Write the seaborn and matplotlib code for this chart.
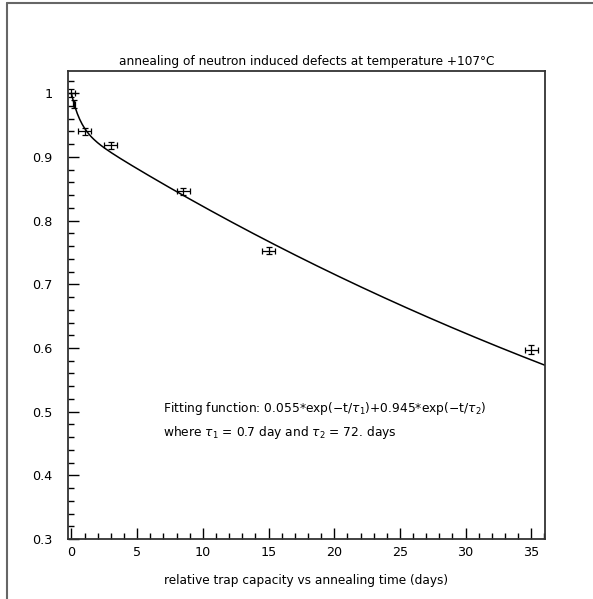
import numpy as np
import pandas as pd
import seaborn as sns
from matplotlib import pyplot as plt
import matplotlib.ticker as mtick
from matplotlib.lines import Line2D

# measured points (relative trap capacity vs annealing time)
days = [0.0, 0.2, 1.0, 3.0, 8.5, 15.0, 35.0]
capacity = [1.000, 0.983, 0.940, 0.918, 0.846, 0.753, 0.597]
days_err = [0.3, 0.1, 0.5, 0.5, 0.5, 0.5, 0.5]
capacity_err = [0.006, 0.006, 0.006, 0.005, 0.005, 0.006, 0.007]

# fit parameters printed on the chart
amp1, tau1 = 0.055, 0.7
amp2, tau2 = 0.945, 72.0

x_ticks = [0, 5, 10, 15, 20, 25, 30, 35]
y_ticks = [0.3, 0.4, 0.5, 0.6, 0.7, 0.8, 0.9, 1.0]

sns.set_style("white")
plt.rcParams['font.family'] = ['DejaVu Sans']
plt.rcParams['mathtext.fontset'] = 'dejavusans'
plt.rcParams['text.color'] = 'black'

fig = plt.figure(figsize=(5.93, 5.99), dpi=100)
ax = fig.add_axes([68 / 593, 60 / 599, 477 / 593, 468 / 599])

# fitted curve
t = np.linspace(0, 36.04, 400)
fit = pd.DataFrame({"t": t,
                    "y": amp1 * np.exp(-t / tau1) + amp2 * np.exp(-t / tau2)})
sns.lineplot(data=fit, x="t", y="y", color="black", linewidth=1.1, ax=ax)

ax.errorbar(days, capacity, xerr=days_err, yerr=capacity_err, fmt="none",
            ecolor="black", elinewidth=0.9, capsize=2.5, capthick=0.9)

ax.set_xlim(-0.26, 36.04)
ax.set_ylim(0.3, 1.035)
ax.set_xticks(x_ticks)
ax.set_yticks(y_ticks)
ax.xaxis.set_minor_locator(mtick.MultipleLocator(1))
ax.yaxis.set_minor_locator(mtick.MultipleLocator(0.02))
ax.yaxis.set_major_formatter(mtick.FuncFormatter(lambda v, p: f"{v:g}"))
ax.tick_params(which="both", direction="in", top=False, right=False,
               bottom=True, left=True, color="black", labelcolor="black",
               labelsize=9.2)
ax.tick_params(which="major", length=8, width=1)
ax.tick_params(which="minor", length=4, width=1)
ax.tick_params(axis="y", pad=11)
ax.tick_params(axis="x", pad=5)
for s in ax.spines.values():
    s.set_color("#333333")
    s.set_linewidth(1.3)

ax.set_xlabel("relative trap capacity vs annealing time (days)", fontsize=8.7,
              labelpad=11, color="black")
ax.set_ylabel("")
ax.set_title("annealing of neutron induced defects at temperature +107°C",
             fontsize=8.7, pad=4, color="black")

ax.text(0.199, 0.278,
        r"Fitting function: 0.055*exp($-$t/$\tau_1$)+0.945*exp($-$t/$\tau_2$)",
        transform=ax.transAxes, fontsize=8.8, va="center", ha="left")
ax.text(0.199, 0.228, r"where $\tau_1$ = 0.7 day and $\tau_2$ = 72. days",
        transform=ax.transAxes, fontsize=8.8, va="center", ha="left")

# outer frame (only top and left edges fall inside the picture)
fig.add_artist(Line2D([7.3 / 593, 7.3 / 593], [0, 1 - 2.7 / 599],
                      transform=fig.transFigure, color="#666666", linewidth=1.5))
fig.add_artist(Line2D([7.3 / 593, 1], [1 - 2.7 / 599, 1 - 2.7 / 599],
                      transform=fig.transFigure, color="#666666", linewidth=1.5))

fig.savefig("out.png", dpi=100)
